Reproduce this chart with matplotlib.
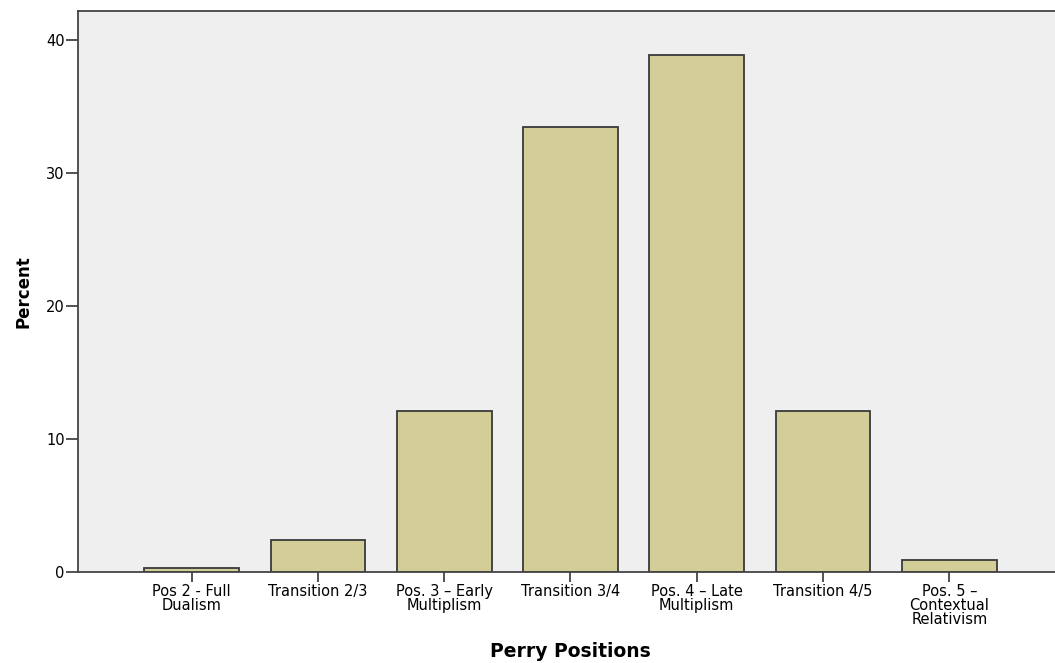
import matplotlib.pyplot as plt

plt.rcParams['font.family'] = ['DejaVu Sans']

positions = ["Pos 2 - Full\nDualism", "Transition 2/3", "Pos. 3 \u2013 Early\nMultiplism",
             "Transition 3/4", "Pos. 4 \u2013 Late\nMultiplism", "Transition 4/5",
             "Pos. 5 \u2013\nContextual\nRelativism"]
percent = [0.3, 2.4, 12.1, 33.5, 38.9, 12.1, 0.9]

fig = plt.figure(figsize=(10.55, 6.63), dpi=100)
ax = fig.add_axes([0.0739, 0.1373, 0.9336, 0.8461])
ax.set_facecolor("#efefef")

x = range(len(positions))
ax.bar(x, percent, width=0.75, color="#d3ce97", edgecolor="#3a3a3a", linewidth=1.3, zorder=2)

ax.set_xlim(-0.9, 6.9)
ax.set_ylim(0, 42.2)
ax.set_yticks([0, 10, 20, 30, 40])
ax.set_xticks(list(x))
ax.set_xticklabels(positions, fontsize=10.5, linespacing=0.9)
ax.tick_params(axis='y', labelsize=10.5, length=8.5, width=1.3, color="#444444", pad=1)
ax.tick_params(axis='x', length=7, width=1.3, color="#444444", pad=2)

for s in ["left", "bottom", "top"]:
    ax.spines[s].set_color("#444444")
    ax.spines[s].set_linewidth(1.3)
ax.spines["right"].set_visible(False)

ax.set_ylabel("Percent", fontsize=12, fontweight="bold", labelpad=10)
ax.set_xlabel("Perry Positions", fontsize=13.5, fontweight="bold", labelpad=11)

fig.savefig("out.png", dpi=100)
